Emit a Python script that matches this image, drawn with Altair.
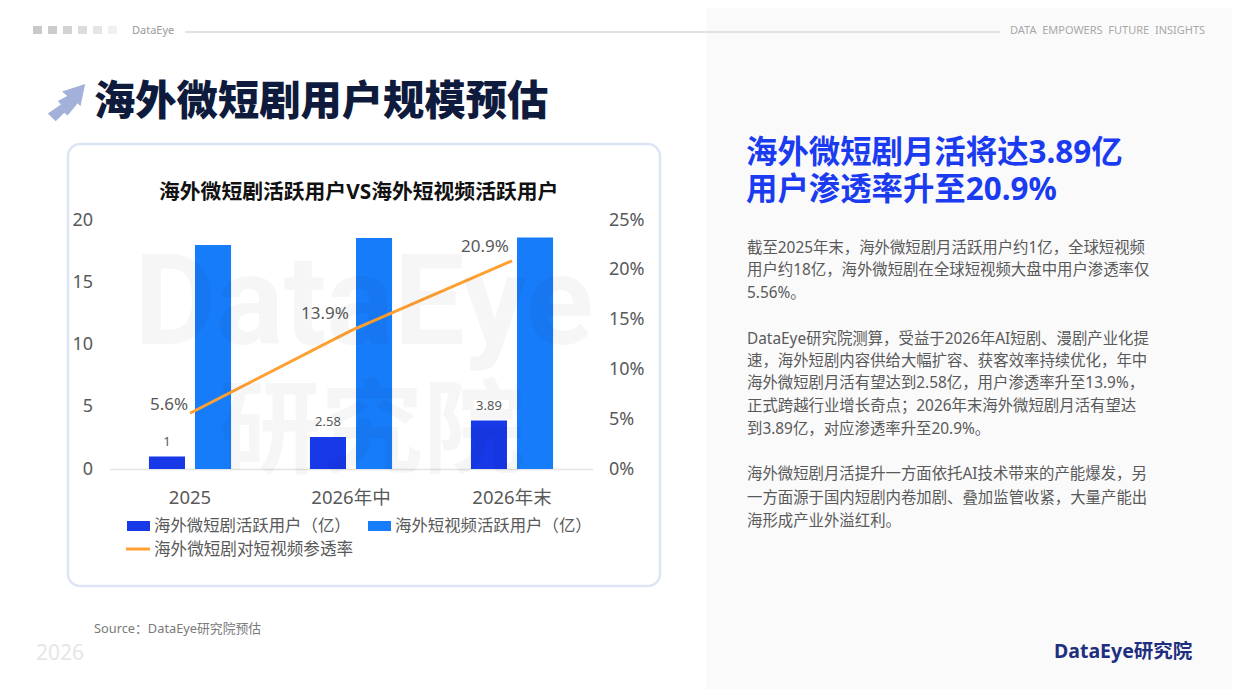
import altair as alt
import pandas as pd

categories = ["2025", "2026年中", "2026年末"]
drama_users = [1, 2.58, 3.89]
video_users = [18, 18.56, 18.6]
penetration = [0.056, 0.139, 0.209]
drama_name = "海外微短剧活跃用户（亿）"
video_name = "海外短视频活跃用户（亿）"
line_name = "海外微短剧对短视频参透率"

body_lines = [
    "截至2025年末，海外微短剧月活跃用户约1亿，全球短视频",
    "用户约18亿，海外微短剧在全球短视频大盘中用户渗透率仅",
    "5.56%。",
    "DataEye研究院测算，受益于2026年AI短剧、漫剧产业化提",
    "速，海外短剧内容供给大幅扩容、获客效率持续优化，年中",
    "海外微短剧月活有望达到2.58亿，用户渗透率升至13.9%，",
    "正式跨越行业增长奇点；2026年末海外微短剧月活有望达",
    "到3.89亿，对应渗透率升至20.9%。",
    "海外微短剧月活提升一方面依托AI技术带来的产能爆发，另",
    "一方面源于国内短剧内卷加剧、叠加监管收紧，大量产能出",
    "海形成产业外溢红利。",
]
body_y = [248, 270, 293, 339, 361, 383, 406, 429, 474, 498, 521]

FONT = "Noto Sans, Noto Sans CJK SC, sans-serif"
LEFT, TOP, W, H = 109.5, 220, 483, 249
one = alt.Data(values=[{"a": 1}])


def px(v):
    return v - LEFT


def py(v):
    return v - TOP


def label(text, x, y, size, color, weight="normal", align="left", opacity=1, font=FONT):
    return alt.Chart(one).mark_text(
        text=text, font=font, fontSize=size, color=color, fontWeight=weight,
        align=align, baseline="middle", opacity=opacity,
    ).encode(x=alt.value(px(x)), y=alt.value(py(y)))


def box(x0, x1, y0, y1, color, **kw):
    return alt.Chart(one).mark_rect(color=color, **kw).encode(
        x=alt.value(px(x0)), x2=alt.value(px(x1)), y=alt.value(py(y0)), y2=alt.value(py(y1))
    )


bars = pd.DataFrame({
    "cat": categories * 2,
    "series": [drama_name] * 3 + [video_name] * 3,
    "value": drama_users + video_users,
})
line_df = pd.DataFrame({"cat": categories, "rate": penetration})
drama_df = pd.DataFrame({"cat": categories, "value": drama_users})

xs = alt.Scale(domain=categories, paddingInner=0.49, paddingOuter=0.245)
x_axis = alt.X("cat:N", scale=xs, sort=categories, title=None,
               axis=alt.Axis(labelAngle=0, labelFont=FONT, labelFontSize=18.5, labelColor="#595959",
                             labelPadding=19, ticks=False, domainColor="#E4E4E4", domainWidth=1.5,
                             grid=False))
y_left = alt.Scale(domain=[0, 20])
y_right = alt.Scale(domain=[0, 0.25])

bar_layer = alt.Chart(bars).mark_bar().encode(
    x=x_axis,
    xOffset=alt.XOffset("series:N", sort=[drama_name, video_name],
                        scale=alt.Scale(paddingInner=0.217, paddingOuter=0)),
    y=alt.Y("value:Q", scale=y_left, title=None,
            axis=alt.Axis(values=[0, 5, 10, 15, 20], labelFont=FONT, labelFontSize=18,
                          labelColor="#595959", labelPadding=17, ticks=False, domain=False, grid=False)),
    color=alt.Color("series:N", legend=None,
                    scale=alt.Scale(domain=[drama_name, video_name], range=["#1739E8", "#177CF9"])),
)

line_layer = alt.Chart(line_df).mark_line(color="#FFA033", strokeWidth=3).encode(
    x=x_axis,
    y=alt.Y("rate:Q", scale=y_right, title=None,
            axis=alt.Axis(orient="right", values=[0, 0.05, 0.10, 0.15, 0.20, 0.25], format=".0%",
                          labelFont=FONT, labelFontSize=18, labelColor="#595959", labelPadding=16,
                          ticks=False, domain=False, grid=False)),
)

rate_offsets = [(-21, -8), (-26, -16.5), (-27, -14)]
rate_labels = []
for i, (dx, dy) in enumerate(rate_offsets):
    rate_labels.append(
        alt.Chart(line_df.iloc[[i]]).mark_text(
            font=FONT, fontSize=17, color="#595959", dx=dx, dy=dy, baseline="middle", align="center"
        ).encode(
            x=x_axis,
            y=alt.Y("rate:Q", scale=y_right, axis=None),
            text=alt.Text("rate:Q", format=".1%"),
        )
    )

drama_labels = alt.Chart(drama_df).mark_text(
    font=FONT, fontSize=13, color="#595959", dx=-23, dy=-15, baseline="middle", align="center"
).encode(
    x=x_axis,
    y=alt.Y("value:Q", scale=y_left, axis=None),
    text=alt.Text("value:Q"),
)

arrow_path = ("M1,-1 L-0.24,-0.6 L0.04,-0.36 L-0.46,-0.08 L-0.3,0.1 L-1,0.58 L-0.58,1 "
              "L-0.12,0.55 L0.06,0.69 L0.6,0.03 L0.75,0.2 Z")
arrow = alt.Chart(one).mark_point(shape=arrow_path, size=1393, filled=True, color="#A3B1DA", opacity=1).encode(
    x=alt.value(px(66.5)), y=alt.value(py(102.6))
)

square_x = [33, 48, 63, 78, 93, 108]
square_c = ["#C9C9C9", "#CCCCCC", "#D2D2D2", "#DCDCDC", "#E4E4E4", "#F0F0F0"]

behind = [box(706, 1240, 8, 697, "#FAFAFB")]
behind += [box(x, x + 9, 26, 34, c) for x, c in zip(square_x, square_c)]
behind += [
    alt.Chart(one).mark_rule(color="#D9D9D9", strokeWidth=1.3, opacity=1).encode(
        x=alt.value(px(185)), x2=alt.value(px(1000)), y=alt.value(py(32))),
    box(68, 660, 144, 586, "#DDE4F5", filled=False, strokeWidth=2.5, cornerRadius=12, stroke="#DDE4F5"),
]

front = [
    alt.Chart(one).mark_text(text="DataEye", font="Roboto", fontSize=126, fontWeight="bold", color="#000000",
                             opacity=0.03, align="center", baseline="middle").encode(
        x=alt.value(px(364)), y=alt.value(py(306))),
    alt.Chart(one).mark_text(text="研究院", font="Noto Sans CJK SC", fontSize=102, fontWeight="bold",
                             color="#000000", opacity=0.03, align="center", baseline="middle").encode(
        x=alt.value(px(372)), y=alt.value(py(434))),
]

texts = [
    label("DataEye", 132, 31, 11, "#9A9A9A"),
    label("DATA\u00a0\u00a0EMPOWERS\u00a0\u00a0FUTURE\u00a0\u00a0INSIGHTS", 1010, 31, 11, "#A8A8A8"),
    label("海外微短剧用户规模预估", 94, 103, 41.3, "#0F1B3D", 900),
    label("海外微短剧活跃用户VS海外短视频活跃用户", 159, 193, 20.8, "#111111", "bold"),
    label(drama_name, 154, 526, 16.4, "#595959"),
    label(video_name, 395, 526, 16.4, "#595959"),
    label(line_name, 154, 550, 16.6, "#595959"),
    label("Source：DataEye研究院预估", 94, 629, 12.8, "#7A7A7A"),
    label("2026", 36, 654, 21, "#E6E6E6"),
    label("海外微短剧月活将达3.89亿", 746, 154, 31.4, "#1A3BF0", "bold"),
    label("用户渗透率升至20.9%", 746, 191, 31.4, "#1A3BF0", "bold"),
    label("DataEye研究院", 1054, 652, 19.5, "#1F2F7F", "bold"),
]
texts += [label(t, 747, y, 15.4, "#595959") for t, y in zip(body_lines, body_y)]

legend_marks = [
    box(127, 150, 521, 531, "#1739E8"),
    box(368, 391, 521, 531, "#177CF9"),
    alt.Chart(one).mark_rule(color="#FFA033", strokeWidth=3).encode(
        x=alt.value(px(126)), x2=alt.value(px(150)), y=alt.value(py(549))),
]

chart = alt.layer(
    *behind, bar_layer, line_layer, *rate_labels, drama_labels, *front, arrow, *legend_marks, *texts
).resolve_scale(y="independent").properties(
    width=W, height=H,
    padding={"left": LEFT - 8, "top": TOP - 8, "right": 1224 - (LEFT - 8) - W, "bottom": 681 - (TOP - 8) - H},
    autosize=alt.AutoSizeParams(type="none"),
    background="white",
).configure_view(stroke=None)

chart.save("out.html", embed_options={"renderer": "svg", "actions": False})
